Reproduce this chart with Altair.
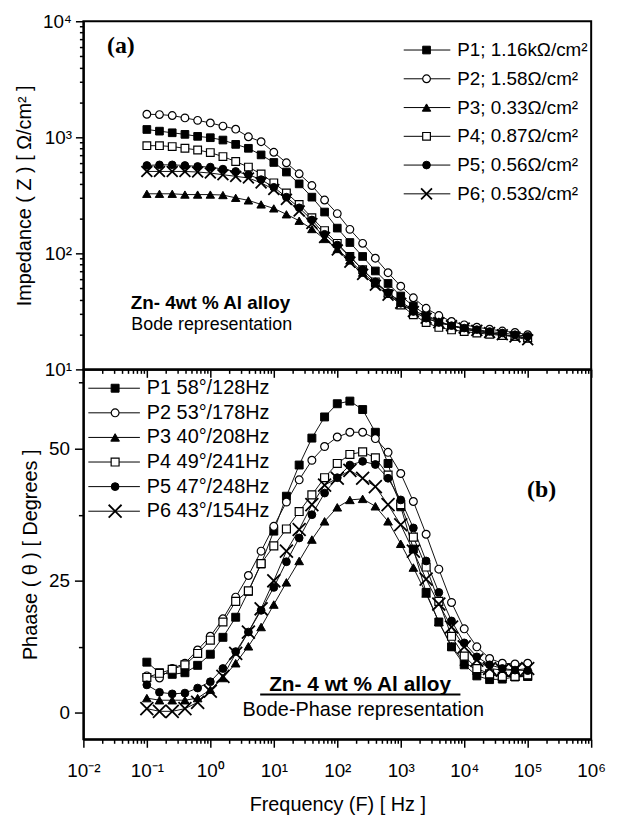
import altair as alt
import pandas as pd

# ---------------- data ----------------
freq = [0.1, 0.158, 0.251, 0.398, 0.631, 1, 1.58, 2.51, 3.98, 6.31,
        10, 15.8, 25.1, 39.8, 63.1, 100, 158, 251, 398, 631,
        1000, 1580, 2510, 3980, 6310, 10000, 15800, 25100, 39800, 63100, 100000]
series = ["P1", "P2", "P3", "P4", "P5", "P6"]

imp_P1 = [1168, 1130, 1094, 1060, 1019, 992, 947, 869, 804, 705,
          607, 502, 397, 305, 227, 165, 124, 94, 70.5, 55,
          42.9, 35.2, 29.5, 25.9, 23.8, 22.3, 21.2, 20.6, 19.9, 19.3, 18.6]
imp_P2 = [1580, 1570, 1540, 1470, 1400, 1330, 1250, 1175, 1010, 916,
          743, 603, 485, 384, 288, 220, 161, 122, 90.8, 68.1,
          52.1, 41.4, 33.6, 29.1, 25.9, 24.2, 23.1, 22.2, 21.4, 20.8, 19.9]
imp_P3 = [326, 326, 326, 321, 321, 321, 318, 301, 286, 264,
          244, 217, 191, 162, 133, 109, 86.8, 68.1, 55.0, 45.7,
          38.3, 32.5, 28.5, 25.9, 23.8, 22.3, 21.2, 20.6, 19.9, 19.3, 18.6]
imp_P4 = [847, 847, 832, 804, 778, 738, 682, 619, 554, 483,
          405, 332, 264, 203, 157, 122, 94, 72.3, 56.8, 45.1,
          35.9, 29.5, 25.3, 23.0, 21.9, 21.2, 20.6, 20.1, 19.6, 19.3, 18.6]
imp_P5 = [572, 579, 579, 572, 561, 554, 532, 508, 476, 432,
          371, 305, 247, 194, 146, 118, 94, 72.3, 56.8, 46.0,
          37.1, 31.5, 27.6, 25.3, 23.8, 22.7, 22.0, 21.2, 20.6, 19.9, 19.3]
imp_P6 = [508, 508, 508, 508, 502, 492, 476, 461, 446, 405,
          355, 292, 232, 181, 137, 107, 84, 65.9, 53.1, 43.6,
          37.1, 31.5, 27.6, 25.3, 23.8, 22.7, 21.7, 20.8, 19.9, 19.0, 18.0]

ph_P1 = [9.6, 7.6, 7.3, 7.6, 9.0, 11.1, 14.3, 18.1, 23.0, 28.2,
         34.4, 41.0, 46.9, 52.0, 56.0, 58.5, 59.0, 57.4, 53.1, 47.2,
         39.0, 31.0, 22.8, 17.2, 12.5, 9.1, 7.0, 6.3, 6.4, 6.8, 6.9]
ph_P2 = [7.0, 6.6, 8.4, 9.4, 11.9, 14.5, 17.8, 21.9, 26.0, 30.6,
         35.3, 39.9, 44.1, 47.8, 50.4, 52.2, 53.1, 53.1, 51.9, 49.3,
         45.3, 40.0, 33.8, 27.2, 20.9, 15.9, 12.5, 10.3, 9.4, 9.25, 9.4]
ph_P3 = [2.8, 2.4, 2.4, 2.4, 2.8, 4.4, 6.6, 9.4, 12.6, 16.25,
         20.5, 24.7, 28.75, 32.8, 36.25, 38.9, 40.3, 40.5, 39.1, 36.25,
         32.0, 27.5, 22.6, 17.2, 12.6, 9.7, 8.0, 7.2, 6.9, 6.9, 6.9]
ph_P4 = [6.7, 7.5, 8.25, 9.1, 11.25, 13.75, 17.2, 21.1, 23.1, 28.25,
         31.6, 34.8, 38.1, 41.25, 44.5, 47.2, 48.9, 49.4, 48.25, 45.0,
         39.4, 33.25, 27.6, 21.1, 14.5, 10.75, 8.4, 7.4, 6.9, 6.9, 7.2]
ph_P5 = [5.3, 3.9, 3.6, 3.75, 4.7, 5.9, 8.4, 11.6, 15.3, 19.4,
         23.75, 28.6, 33.1, 37.5, 41.6, 44.5, 46.9, 47.6, 47.0, 44.4,
         40.3, 35.0, 28.75, 22.8, 17.4, 13.25, 10.6, 9.1, 8.4, 8.1, 8.0]
ph_P6 = [0.8, 0.3, 0.3, 0.8, 2.0, 4.1, 6.9, 11.25, 15.3, 19.7,
         25.0, 30.6, 34.7, 39.4, 43.1, 44.4, 45.9, 44.4, 42.8, 39.4,
         35.6, 30.6, 25.3, 20.6, 16.25, 12.5, 10.0, 8.4, 8.1, 8.1, 8.4]

imp_labels = ["P1; 1.16kΩ/cm²", "P2; 1.58Ω/cm²", "P3; 0.33Ω/cm²",
              "P4; 0.87Ω/cm²", "P5; 0.56Ω/cm²", "P6; 0.53Ω/cm²"]
phase_labels = ["P1 58°/128Hz", "P2 53°/178Hz", "P3 40°/208Hz",
                "P4 49°/241Hz", "P5 47°/248Hz", "P6 43°/154Hz"]

imp_all = [imp_P1, imp_P2, imp_P3, imp_P4, imp_P5, imp_P6]
ph_all = [ph_P1, ph_P2, ph_P3, ph_P4, ph_P5, ph_P6]

df_imp = pd.DataFrame([{"s": s, "f": f, "v": v}
                       for s, vals in zip(series, imp_all) for f, v in zip(freq, vals)])
df_ph = pd.DataFrame([{"s": s, "f": f, "v": v}
                      for s, vals in zip(series, ph_all) for f, v in zip(freq, vals)])
leg_imp = pd.DataFrame({"s": series, "label": imp_labels, "row": list(range(6))})
leg_ph = pd.DataFrame({"s": series, "label": phase_labels, "row": list(range(6))})
one = pd.DataFrame({"k": [0]})

# ---------------- styling ----------------
FONT = "Liberation Sans"
XPATH = "M-1,-1L1,1M-1,1L1,-1"
STYLE = {
    "P1": dict(shape="square", fill="black", sw=1.0, top=60, bot=64),
    "P2": dict(shape="circle", fill="white", sw=1.2, top=60, bot=62),
    "P3": dict(shape="triangle-up", fill="black", sw=1.0, top=72, bot=76),
    "P4": dict(shape="square", fill="white", sw=1.2, top=60, bot=64),
    "P5": dict(shape="circle", fill="black", sw=1.0, top=60, bot=62),
    "P6": dict(shape=XPATH, fill="transparent", sw=1.8, top=120, bot=170),
}

xticks = [k * 10.0 ** d for d in range(-2, 6) for k in range(1, 10)] + [1e6]
yticks_log = [k * 10.0 ** d for d in range(1, 4) for k in range(1, 10)] + [1e4]

MAJ = "abs(log(datum.value)/LN10 - round(log(datum.value)/LN10)) < 0.001"
LOGLAB = (MAJ + " ? '10' + (round(log(datum.value)/LN10) < 0 ? '⁻' : '') + "
          "['⁰','¹','²','³','⁴','⁵','⁶','⁷','⁸','⁹'][abs(round(log(datum.value)/LN10))] : ''")
log_tick = {"condition": {"test": MAJ, "value": 8}, "value": 4}

xscale = alt.Scale(type="log", domain=[0.01, 1e6], nice=False)


def point_layers(data, x, y, which):
    out = []
    for s in series:
        st = STYLE[s]
        out.append(
            alt.Chart(data).transform_filter(alt.datum.s == s).mark_point(
                shape=st["shape"], size=st[which], fill=st["fill"], stroke="black",
                strokeWidth=st["sw"], opacity=1, fillOpacity=1
            ).encode(x=x, y=y)
        )
    return out


# ---------------- top panel ----------------
x_top = alt.X("f:Q", scale=xscale,
              axis=alt.Axis(values=xticks, labels=False, title=None, tickSize=log_tick))
y_top = alt.Y("v:Q", scale=alt.Scale(type="log", domain=[10, 1e4], nice=False),
              axis=alt.Axis(values=yticks_log, labelExpr=LOGLAB, tickSize=log_tick,
                            title="Impedance ( Z ) [ Ω/cm² ]", titlePadding=8,
                            labelPadding=4, labelOverlap=False, labelFlush=False))

lines_top = alt.Chart(df_imp).mark_line(color="#111", strokeWidth=1).encode(x=x_top, y=y_top, detail="s:N")
pts_top = point_layers(df_imp, x_top, y_top, "top")

lg_t = alt.Chart(leg_imp).transform_calculate(py="29 + datum.row * 29")
lg_t_rule = lg_t.mark_rule(color="black", strokeWidth=1).encode(
    x=alt.value(323), x2=alt.value(370), y=alt.Y("py:Q", scale=None))
lg_t_pts = point_layers(leg_imp.assign(py=[29 + r * 29 for r in range(6)]),
                        alt.value(346), alt.Y("py:Q", scale=None), "top")
lg_t_txt = lg_t.mark_text(align="left", baseline="middle", font=FONT, fontSize=19, color="black").encode(
    x=alt.value(377), y=alt.Y("py:Q", scale=None), text="label:N")

ann = alt.Chart(one)
ann_a = ann.mark_text(font="Liberation Serif", fontWeight="bold", fontSize=24, color="black").encode(
    x=alt.datum(0.039), y=alt.datum(6100), text=alt.value("(a)"))
ann_t1 = ann.mark_text(font=FONT, fontWeight="bold", fontSize=19, align="left", color="black").encode(
    x=alt.datum(0.056), y=alt.datum(37), text=alt.value("Zn- 4wt % Al alloy"))
ann_t2 = ann.mark_text(font=FONT, fontSize=18, align="left", color="black").encode(
    x=alt.datum(0.057), y=alt.datum(24.2), text=alt.value("Bode representation"))

top = alt.layer(lines_top, *pts_top, lg_t_rule, *lg_t_pts, lg_t_txt, ann_a, ann_t1, ann_t2).properties(
    width=512, height=351)

# ---------------- bottom panel ----------------
x_bot = alt.X("f:Q", scale=xscale,
              axis=alt.Axis(values=xticks, labelExpr=LOGLAB, tickSize=log_tick,
                            title="Frequency (F) [ Hz ]", titlePadding=15, labelPadding=14,
                            labelOverlap=False, labelFlush=False))
y_bot = alt.Y("v:Q", scale=alt.Scale(domain=[-5, 65], nice=False, zero=False),
              axis=alt.Axis(values=[0, 12.5, 25, 37.5, 50, 62.5],
                            labelExpr="datum.value % 25 == 0 ? datum.label : ''",
                            tickSize={"condition": {"test": "datum.value % 25 == 0", "value": 9}, "value": 5},
                            title="Phaase ( θ ) [ Degrees ]", titlePadding=8, labelPadding=5,
                            labelOverlap=False, labelFlush=False))

lines_bot = alt.Chart(df_ph).mark_line(color="#111", strokeWidth=1).encode(x=x_bot, y=y_bot, detail="s:N")
pts_bot = point_layers(df_ph, x_bot, y_bot, "bot")

lg_b = alt.Chart(leg_ph).transform_calculate(py="19 + datum.row * 24.8")
lg_b_rule = lg_b.mark_rule(color="black", strokeWidth=1).encode(
    x=alt.value(5), x2=alt.value(57), y=alt.Y("py:Q", scale=None))
lg_b_pts = point_layers(leg_ph.assign(py=[19 + r * 24.8 for r in range(6)]),
                        alt.value(32), alt.Y("py:Q", scale=None), "bot")
lg_b_txt = lg_b.mark_text(align="left", baseline="middle", font=FONT, fontSize=20, color="black").encode(
    x=alt.value(64), y=alt.Y("py:Q", scale=None), text="label:N")

ann_b = ann.mark_text(font="Liberation Serif", fontWeight="bold", fontSize=24, color="black").encode(
    x=alt.datum(1.66e5), y=alt.datum(42.2), text=alt.value("(b)"))
ann_b1 = ann.mark_text(font=FONT, fontWeight="bold", fontSize=21, color="black").encode(
    x=alt.datum(229), y=alt.datum(5.2), text=alt.value("Zn- 4 wt % Al alloy"))
ann_ul = ann.mark_rule(color="black", strokeWidth=2).encode(
    x=alt.datum(6.1), x2=alt.datum(8710), y=alt.datum(3.5))
ann_b2 = ann.mark_text(font=FONT, fontSize=20, color="black").encode(
    x=alt.datum(257), y=alt.datum(0.6), text=alt.value("Bode-Phase representation"))

bottom = alt.layer(lines_bot, *pts_bot, lg_b_rule, *lg_b_pts, lg_b_txt, ann_b, ann_b1, ann_ul, ann_b2).properties(
    width=512, height=373)

chart = alt.vconcat(top, bottom, spacing=0, bounds="flush", background="white").properties(
    padding={"left": 5, "top": 0, "right": 5, "bottom": 5}
).configure_view(stroke="black", strokeWidth=2).configure_axis(
    domainColor="black", domainWidth=2, tickColor="black", tickWidth=1.5,
    labelColor="black", titleColor="black", labelFont=FONT, titleFont=FONT,
    labelFontSize=19, titleFontSize=20, titleFontWeight="normal", grid=False
)

chart.save("out.html", embed_options={"renderer": "svg", "actions": False})
